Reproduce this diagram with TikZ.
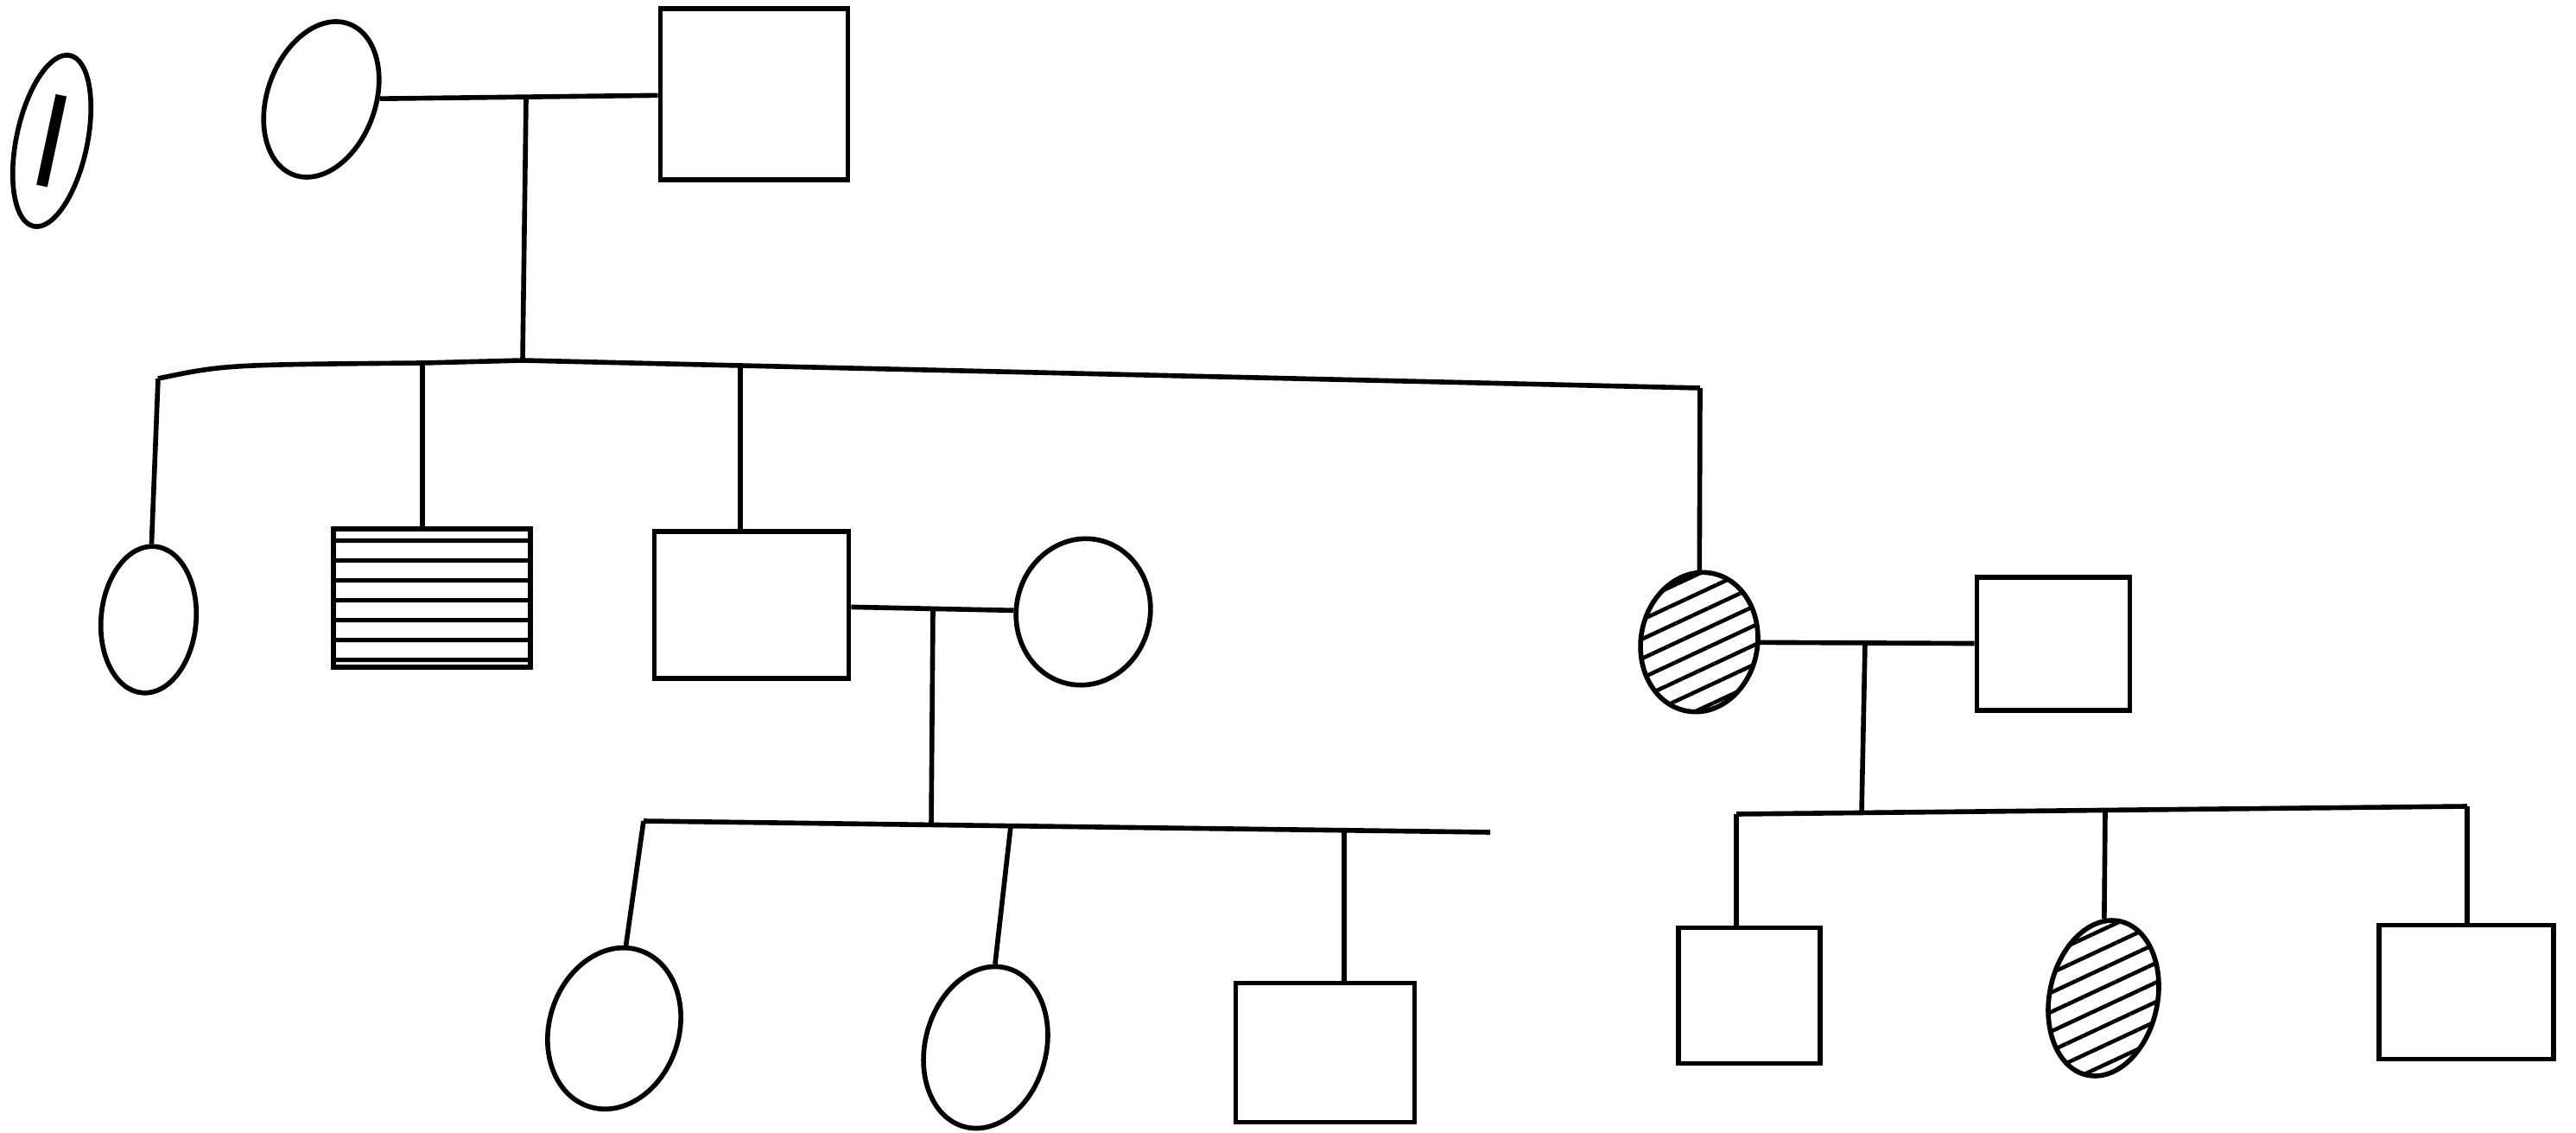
\documentclass[tikz,border=0pt]{standalone}
\usetikzlibrary{shapes.geometric,patterns.meta}

\begin{document}
\begin{tikzpicture}[x=1cm,y=-1cm,line width=1.6pt,
        fem/.style={draw,ellipse,inner sep=0pt},
        mal/.style={draw,rectangle,inner sep=0pt},
        hatchsq/.style={pattern={Lines[angle=0,distance=6.5pt,line width=1.4pt]}},
        hatchel/.style={pattern={Lines[angle=25,distance=5.8pt,line width=1.3pt]}}]
    \useasboundingbox (0,0) rectangle (29.82,13.11);
    \node[fem,minimum width=0.82cm,minimum height=2.02cm,rotate=-12,
        font=\sffamily\fontsize{44}{44}\selectfont] (gen) at (0.60,1.63) {I};
    \node[fem,minimum width=1.25cm,minimum height=1.86cm,rotate=-20] (gma) at (3.72,1.15) {};
    \node[mal,minimum width=2.17cm,minimum height=1.98cm] (gpa) at (8.73,1.09) {};

    \node[fem,minimum width=1.10cm,minimum height=1.70cm,rotate=-5] (d1) at (1.72,7.17) {};
    \node[mal,hatchsq,minimum width=2.28cm,minimum height=1.60cm] (s1) at (5.00,6.92) {};
    \node[mal,minimum width=2.25cm,minimum height=1.70cm] (s2) at (8.70,7.00) {};
    \node[fem,minimum width=1.55cm,minimum height=1.70cm,rotate=-12] (w2) at (12.54,7.08) {};
    \node[fem,hatchel,minimum width=1.35cm,minimum height=1.62cm,rotate=-10] (d2) at (19.67,7.43) {};
    \node[mal,minimum width=1.77cm,minimum height=1.54cm] (h2) at (23.77,7.45) {};

    \node[fem,minimum width=1.50cm,minimum height=1.90cm,rotate=-18] (g1) at (7.11,11.90) {};
    \node[fem,minimum width=1.40cm,minimum height=1.90cm,rotate=-15] (g2) at (11.41,12.12) {};
    \node[mal,minimum width=2.07cm,minimum height=1.61cm] (g3) at (15.34,12.18) {};
    \node[mal,minimum width=1.64cm,minimum height=1.57cm] (g4) at (20.25,11.52) {};
    \node[fem,hatchel,minimum width=1.25cm,minimum height=1.82cm,rotate=-12] (g5) at (24.35,11.55) {};
    \node[mal,minimum width=2.02cm,minimum height=1.55cm] (g6) at (28.55,11.48) {};

    \coordinate (m1) at (6.09,1.14);
    \coordinate (t2) at (6.05,4.17);
    \coordinate (a2) at (1.83,4.38);
    \coordinate (b2) at (4.89,4.20);
    \coordinate (c2) at (8.57,4.23);
    \coordinate (e2) at (19.68,4.49);
    \draw (gma) -- (gpa);
    \draw (m1) -- (t2);
    \draw (a2) .. controls (2.6,4.22) .. (b2) -- (t2) -- (c2) -- (e2);
    \draw (a2) -- (d1);
    \draw (b2) -- (b2 |- s1.north);
    \draw (c2) -- (c2 |- s2.north);
    \draw (e2) -- (d2);

    \coordinate (m2) at (10.80,7.04);
    \coordinate (t3) at (10.78,9.55);
    \coordinate (a3) at (7.45,9.50);
    \coordinate (b3) at (11.70,9.56);
    \coordinate (c3) at (15.56,9.59);
    \coordinate (z3) at (17.25,9.63);
    \draw (s2) -- (w2);
    \draw (m2) -- (t3);
    \draw (a3) -- (z3);
    \draw (a3) -- (g1);
    \draw (b3) -- (g2);
    \draw (c3) -- (c3 |- g3.north);

    \coordinate (m3) at (21.59,7.44);
    \coordinate (t4) at (21.55,9.41);
    \coordinate (a4) at (20.10,9.42);
    \coordinate (b4) at (24.37,9.37);
    \coordinate (c4) at (28.56,9.33);
    \draw (d2) -- (h2);
    \draw (m3) -- (t4);
    \draw (a4) -- (c4);
    \draw (a4) -- (a4 |- g4.north);
    \draw (b4) -- (g5);
    \draw (c4) -- (c4 |- g6.north);
\end{tikzpicture}
\end{document}
